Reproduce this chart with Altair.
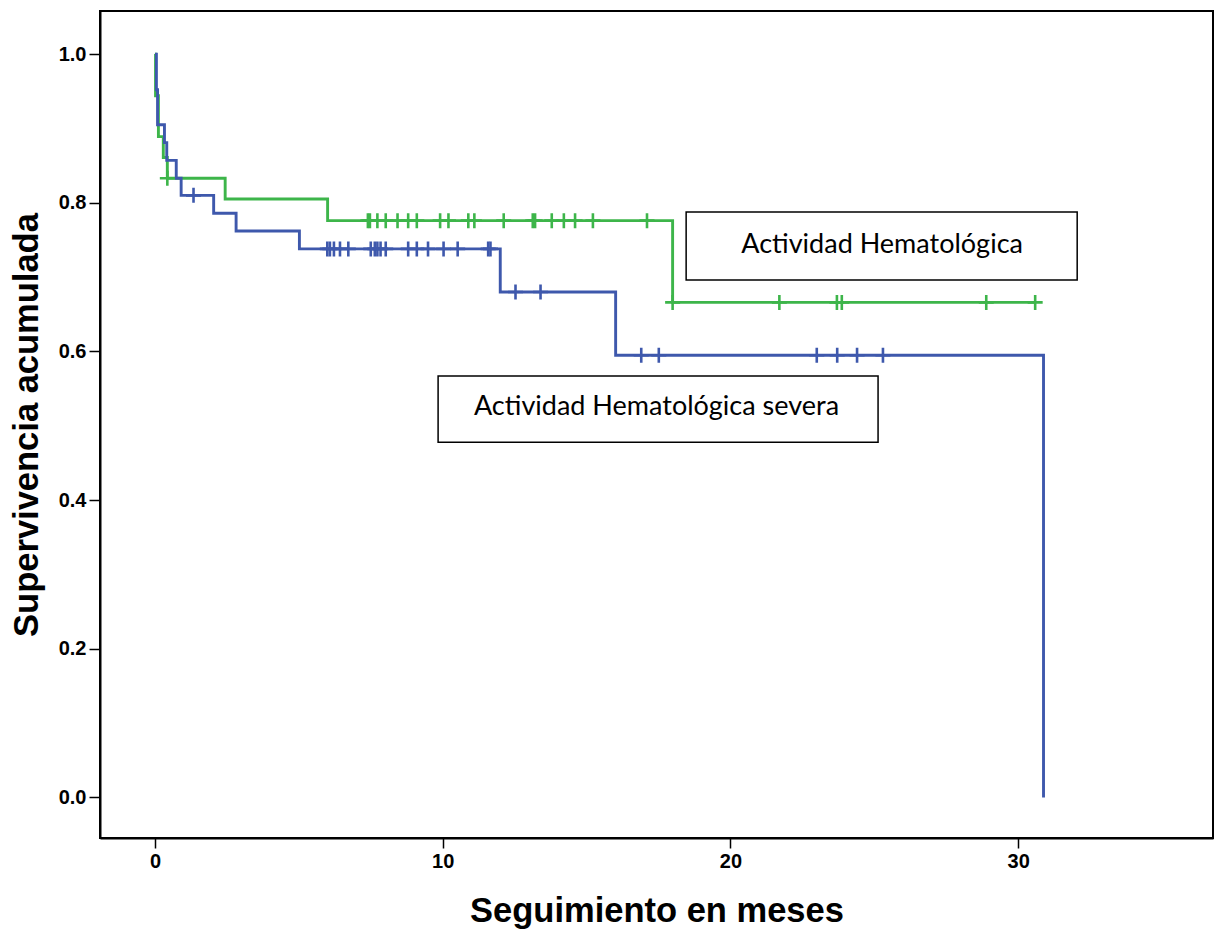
import altair as alt
import pandas as pd

# ---- Kaplan-Meier step data ----
green_name = "Actividad Hematológica"
blue_name = "Actividad Hematológica severa"

green_time = [0.0, 0.02, 0.12, 0.29, 0.43, 2.44, 6.0, 17.99, 30.6]
green_surv = [1.0, 0.944, 0.889, 0.861, 0.833, 0.805, 0.776, 0.666, 0.666]

blue_time = [0.0, 0.05, 0.09, 0.33, 0.41, 0.74, 0.91, 2.04, 2.82, 5.02, 12.0, 16.01, 30.88]
blue_surv = [1.0, 0.952, 0.905, 0.881, 0.857, 0.833, 0.810, 0.786, 0.762, 0.738, 0.680, 0.595, 0.0]

# censored observations
green_cens_time = [0.43,
                   7.40, 7.47, 7.73, 8.02, 8.43, 8.80, 9.10, 9.91, 10.20, 10.89, 11.10,
                   12.12, 13.13, 13.21, 13.79, 14.21, 14.60, 15.22, 17.10,
                   17.99, 21.70, 23.70, 23.87, 28.89, 30.59]
green_cens_surv = [0.833] + [0.776] * 19 + [0.666] * 6

blue_cens_time = [1.34,
                  5.99, 6.08, 6.22, 6.43, 6.72, 7.50, 7.64, 7.73, 7.84, 8.02, 8.80,
                  9.10, 9.49, 10.03, 10.52, 11.58, 11.66,
                  12.53, 13.40,
                  16.90, 17.51, 23.00, 23.71, 24.40, 25.30]
blue_cens_surv = [0.810] + [0.738] * 17 + [0.680] * 2 + [0.595] * 6

# annotation boxes (data coordinates)
box_label = [green_name, blue_name]
box_x1 = [18.46, 9.84]
box_x2 = [32.05, 25.13]
box_y1 = [0.7875, 0.567]
box_y2 = [0.696, 0.478]
box_tx = [25.27, 17.43]
box_ty = [0.743, 0.525]

x_ticks = [0, 10, 20, 30]
y_ticks = [0.0, 0.2, 0.4, 0.6, 0.8, 1.0]

colors_domain = [green_name, blue_name]
colors_range = ["#3DB54A", "#3E58AC"]

# ---- tables ----
lines_df = pd.concat([
    pd.DataFrame({"time": green_time, "surv": green_surv, "group": green_name,
                  "idx": range(len(green_time))}),
    pd.DataFrame({"time": blue_time, "surv": blue_surv, "group": blue_name,
                  "idx": range(len(blue_time))}),
], ignore_index=True)

cens_df = pd.concat([
    pd.DataFrame({"time": green_cens_time, "surv": green_cens_surv, "group": green_name}),
    pd.DataFrame({"time": blue_cens_time, "surv": blue_cens_surv, "group": blue_name}),
], ignore_index=True)

box_df = pd.DataFrame({"label": box_label, "time": box_x1, "time2": box_x2,
                       "surv": box_y1, "surv2": box_y2, "tx": box_tx, "ty": box_ty})

FONT = "Liberation Sans"

x_scale = alt.Scale(domain=[-1.91, 36.77], nice=False, zero=False)
y_scale = alt.Scale(domain=[-0.0545, 1.058], nice=False, zero=False)

x_axis = alt.Axis(values=x_ticks, format="d", title="Seguimiento en meses", grid=False,
                  tickSize=10, labelPadding=3, titlePadding=23)
y_axis = alt.Axis(values=y_ticks, format=".1f", title="Supervivencia acumulada", grid=False,
                  tickSize=11, labelPadding=3, titlePadding=14)

color = alt.Color("group:N", scale=alt.Scale(domain=colors_domain, range=colors_range), legend=None)

lines = alt.Chart(lines_df).mark_line(interpolate="step-after", strokeWidth=2.9).encode(
    x=alt.X("time:Q", scale=x_scale, axis=x_axis),
    y=alt.Y("surv:Q", scale=y_scale, axis=y_axis),
    color=color,
    order="idx:Q",
)

cens = alt.Chart(cens_df).mark_point(
    shape="M-1,0L1,0M0,-1L0,1", size=225, filled=False, strokeWidth=2.6, opacity=1
).encode(
    x=alt.X("time:Q", scale=x_scale, axis=x_axis),
    y=alt.Y("surv:Q", scale=y_scale, axis=y_axis),
    color=color,
)

boxes = alt.Chart(box_df).mark_rect(fill="white", stroke="black", strokeWidth=1.5).encode(
    x=alt.X("time:Q", scale=x_scale, axis=x_axis),
    x2="time2:Q",
    y=alt.Y("surv:Q", scale=y_scale, axis=y_axis),
    y2="surv2:Q",
)

texts = alt.Chart(box_df).mark_text(font="Lato", fontSize=27, color="black",
                                    align="center", baseline="middle").encode(
    x=alt.X("tx:Q", scale=x_scale, axis=x_axis),
    y=alt.Y("ty:Q", scale=y_scale, axis=y_axis),
    text="label:N",
)

chart = alt.layer(lines, cens, boxes, texts).properties(
    width=1113,
    height=827,
    padding={"left": 100, "top": 11, "right": 2, "bottom": 95},
    autosize=alt.AutoSizeParams(type="none"),
    background="white",
).configure_view(
    stroke="black", strokeWidth=2
).configure_axis(
    domainColor="black", domainWidth=2, tickColor="black", tickWidth=1.5,
    labelFont=FONT, labelFontSize=20, labelFontWeight="bold", labelColor="black",
    titleFont=FONT, titleFontSize=34.5, titleFontWeight="bold", titleColor="black",
)

chart.save("out.html", embed_options={"renderer": "svg", "actions": False})
